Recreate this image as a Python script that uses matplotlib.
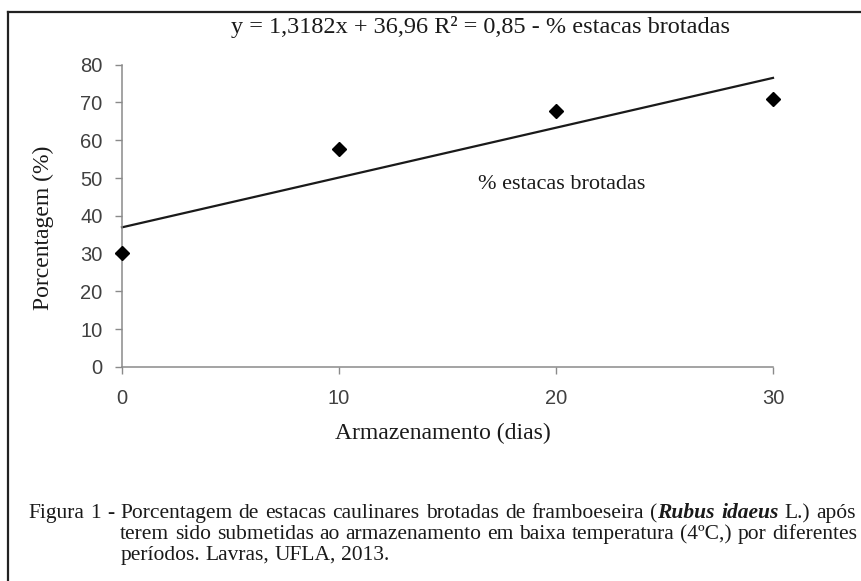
import numpy as np
import matplotlib
matplotlib.use("Agg")
import matplotlib.pyplot as plt
from matplotlib.lines import Line2D

# ---- data ----
dias = [0, 10, 20, 30]
brotadas = [30.3, 57.6, 67.8, 71.0]
fit_slope = 1.3182
fit_intercept = 36.96
x_ticks = [0, 10, 20, 30]
y_ticks = [0, 10, 20, 30, 40, 50, 60, 70, 80]
title_txt = "y = 1,3182x + 36,96 R² = 0,85 - % estacas brotadas"
series_label = "% estacas brotadas"
xlabel_txt = "Armazenamento (dias)"
ylabel_txt = "Porcentagem (%)"

W, H = 861, 581
fig = plt.figure(figsize=(W / 100, H / 100), dpi=100)
fig.patch.set_facecolor("white")

def fx(px):
    return px / W

def fy(py):
    return 1 - py / H

SERIF = "Liberation Serif"
SANS = "Liberation Sans"

ax = fig.add_axes([fx(122), fy(367), fx(773) - fx(122), fy(64.7) - fy(367)])
ax.set_xlim(0, 30)
ax.set_ylim(0, 80)
for s in ["top", "right"]:
    ax.spines[s].set_visible(False)
for s in ["left", "bottom"]:
    ax.spines[s].set_color("#8a8a8a")
    ax.spines[s].set_linewidth(1.1)
ax.set_xticks(x_ticks)
ax.set_yticks(y_ticks)
ax.tick_params(axis="both", direction="out", length=5, width=1.0, color="#8a8a8a",
               labelsize=14.5, labelcolor="#404040", pad=9)
ax.tick_params(axis="x", pad=11)
for lab in ax.get_xticklabels() + ax.get_yticklabels():
    lab.set_fontfamily(SANS)

# trend line from fitted equation
fx_line = np.array([dias[0], dias[-1]], dtype=float)
ax.plot(fx_line, fit_slope * fx_line + fit_intercept, color="#1a1a1a", lw=1.6,
        clip_on=False, zorder=2)
ax.plot(dias, brotadas, linestyle="none", marker="D", markersize=7,
        color="black", clip_on=False, zorder=3)

ax.text(16.4, 48.2, series_label, fontfamily=SERIF, fontsize=16, color="#1a1a1a",
        ha="left", va="center")

fig.text(fx(481), fy(33), title_txt, fontfamily=SERIF, fontsize=17.5, color="#1a1a1a",
         ha="center", va="baseline")
fig.text(fx(443), fy(433), xlabel_txt, fontfamily=SERIF, fontsize=17, color="#1a1a1a",
         ha="center", va="center")
fig.text(fx(43), fy(228), ylabel_txt, fontfamily=SERIF, fontsize=17, color="#1a1a1a",
         ha="center", va="center", rotation=90)

# frame lines (top and left)
fig.add_artist(Line2D([fx(8), 1.0], [fy(12), fy(12)], color="#222222", lw=1.6))
fig.add_artist(Line2D([fx(8), fx(8)], [fy(12), 0.0], color="#222222", lw=1.6))

# ---- caption, justified ----
cap_size = 15.5
renderer = fig.canvas.get_renderer()

def word_width(txt, style="normal", weight="normal"):
    t = fig.text(0, 0, txt, fontfamily=SERIF, fontsize=cap_size, style=style, weight=weight)
    w = t.get_window_extent(renderer).width
    t.remove()
    return w

space_w = word_width("a a") - word_width("aa")

BI = ("italic", "bold")
N = ("normal", "normal")
line1 = [("Figura", N), ("1", N), ("-", N), ("Porcentagem", N), ("de", N), ("estacas", N),
         ("caulinares", N), ("brotadas", N), ("de", N), ("framboeseira", N), ("(", N),
         ("Rubus", BI), ("idaeus", BI), ("L.)", N), ("após", N)]
line2 = [("terem", N), ("sido", N), ("submetidas", N), ("ao", N), ("armazenamento", N),
         ("em", N), ("baixa", N), ("temperatura", N), ("(4ºC,)", N), ("por", N), ("diferentes", N)]
line3 = [("períodos.", N), ("Lavras,", N), ("UFLA,", N), ("2013.", N)]

def draw_line(words, x0, x1, base, justify, glue=()):
    widths = [word_width(w, *p) for w, p in words]
    gaps = len(words) - 1 - len(glue)
    if justify and gaps > 0:
        gap = (x1 - x0 - sum(widths)) / gaps
    else:
        gap = space_w
    x = x0
    starts = []
    for i, ((w, p), wd) in enumerate(zip(words, widths)):
        starts.append(x)
        fig.text(fx(x), fy(base), w, fontfamily=SERIF, fontsize=cap_size, style=p[0],
                 weight=p[1], color="#1a1a1a", ha="left", va="baseline")
        x += wd
        if i + 1 < len(words) and i not in glue:
            x += gap
    return starts

starts = draw_line(line1, 28, 856, 518, True, glue=(10,))
indent = starts[3]
draw_line(line2, indent, 857, 539, True)
draw_line(line3, indent, 857, 560, False)

fig.savefig("out.png", dpi=100, facecolor="white")
